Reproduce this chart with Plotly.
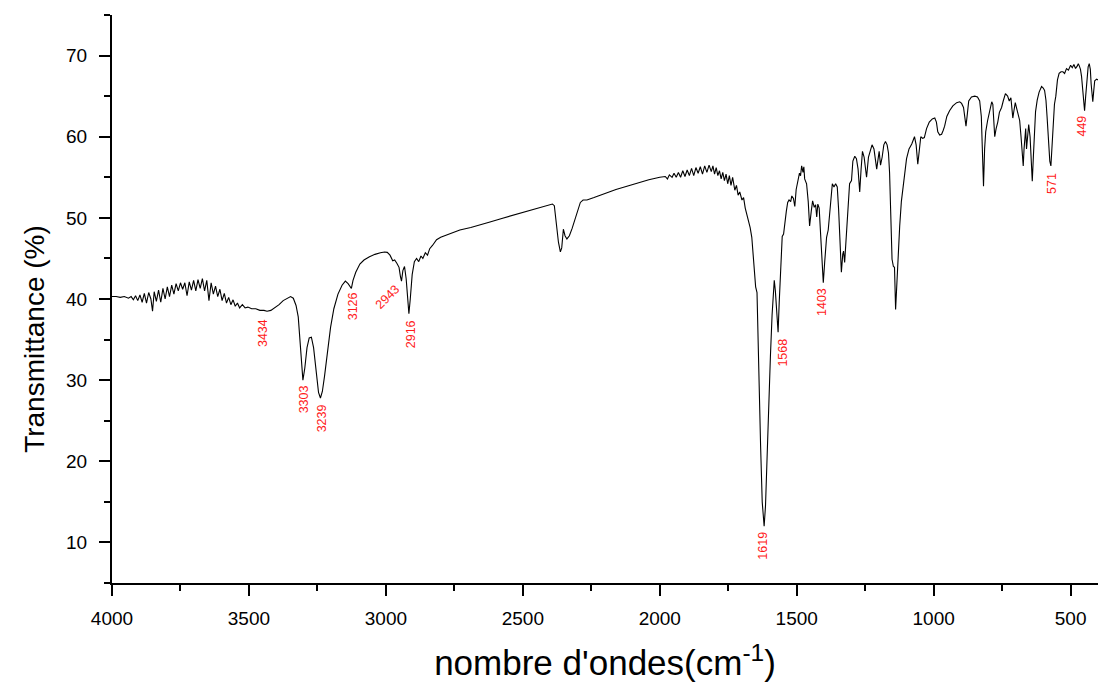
import plotly.graph_objects as go

# IR spectrum: wavenumber (cm-1) and transmittance (%)
wavenumber = [
    4000, 3985, 3970, 3955, 3940, 3930, 3922, 3914, 3906, 3898, 3890, 3882, 3874, 3866, 3858, 3852, 3846, 3838,
    3830, 3822, 3814, 3806, 3798, 3790, 3782, 3774, 3766, 3758, 3750, 3742, 3734, 3726, 3718, 3710, 3702, 3694,
    3686, 3678, 3670, 3662, 3654, 3646, 3638, 3630, 3622, 3614, 3606, 3598, 3590, 3582, 3574, 3566, 3558, 3550,
    3542, 3534, 3524, 3514, 3504, 3490, 3475, 3460, 3445, 3434, 3420, 3405, 3390, 3375, 3360, 3348, 3338, 3328,
    3320, 3314, 3308, 3303, 3296, 3288, 3280, 3272, 3264, 3255, 3246, 3239, 3232, 3224, 3214, 3202, 3190, 3175,
    3160, 3148, 3138, 3130, 3126, 3120, 3110, 3095, 3080, 3060, 3040, 3020, 3005, 2995, 2985, 2975, 2968, 2960,
    2952, 2947, 2943, 2938, 2932, 2926, 2920, 2916, 2911, 2904, 2896, 2888, 2880, 2872, 2865, 2856, 2848, 2840,
    2830, 2815, 2800, 2770, 2730, 2690, 2657, 2620, 2580, 2540, 2500, 2460, 2420, 2392, 2385, 2378, 2370, 2363,
    2358, 2352, 2346, 2339, 2330, 2320, 2310, 2300, 2290, 2280, 2266, 2240, 2200, 2160, 2120, 2084, 2040, 2000,
    1980, 1972, 1965, 1955, 1948, 1940, 1932, 1924, 1916, 1908, 1900, 1892, 1884, 1876, 1868, 1860, 1852, 1844,
    1836, 1828, 1820, 1812, 1806, 1800, 1794, 1788, 1782, 1776, 1770, 1764, 1758, 1752, 1746, 1740, 1734, 1726,
    1720, 1714, 1708, 1700, 1694, 1688, 1682, 1676, 1670, 1664, 1659, 1654, 1650, 1645, 1640, 1632, 1626, 1619,
    1614, 1608, 1602, 1596, 1590, 1585, 1582, 1578, 1572, 1568, 1564, 1558, 1553, 1548, 1544, 1538, 1533, 1528,
    1522, 1518, 1512, 1507, 1502, 1496, 1490, 1486, 1482, 1477, 1474, 1471, 1464, 1458, 1453, 1447, 1442, 1436,
    1431, 1427, 1423, 1418, 1412, 1407, 1403, 1398, 1391, 1385, 1380, 1375, 1370, 1364, 1358, 1352, 1347, 1342,
    1337, 1332, 1329, 1325, 1318, 1312, 1307, 1300, 1295, 1288, 1282, 1276, 1270, 1265, 1260, 1254, 1245, 1238,
    1232, 1225, 1218, 1212, 1208, 1204, 1199, 1194, 1188, 1182, 1176, 1170, 1165, 1161, 1156, 1152, 1147, 1143,
    1139, 1134, 1129, 1124, 1118, 1113, 1106, 1099, 1090, 1080, 1070, 1064, 1058, 1052, 1047, 1040, 1034, 1026,
    1016, 1005, 996, 990, 985, 978, 971, 965, 960, 952, 942, 930, 916, 905, 898, 891, 886, 882, 878, 872, 862,
    850, 840, 832, 826, 821, 818, 814, 810, 803, 795, 788, 784, 780, 777, 772, 766, 760, 752, 746, 738, 730,
    724, 718, 714, 711, 707, 702, 697, 692, 686, 681, 677, 673, 670, 667, 664, 661, 657, 653, 648, 643, 640,
    636, 632, 628, 622, 615, 606, 600, 595, 590, 586, 581, 576, 572, 568, 564, 559, 554, 548, 542, 535, 528,
    522, 515, 508, 500, 494, 488, 482, 476, 472, 468, 464, 460, 456, 452, 449, 445, 441, 436, 432, 428, 425,
    422, 419, 416, 412, 405, 400,
]
transmittance = [
    40.3, 40.3, 40.2, 40.3, 40.1, 40.3, 39.9, 40.4, 39.8, 40.5, 39.6, 40.7, 39.5, 40.8, 40.0, 38.5, 40.9, 39.7,
    41.1, 39.6, 41.3, 40.0, 41.5, 40.3, 41.7, 40.6, 41.9, 41.0, 42.0, 41.2, 42.0, 40.4, 42.1, 41.1, 42.3, 41.0,
    42.4, 41.3, 42.5, 41.0, 42.3, 39.8, 42.0, 40.6, 41.6, 40.3, 41.2, 39.8, 40.7, 39.5, 40.2, 39.3, 39.9, 39.1,
    39.5, 38.9, 39.3, 38.9, 39.0, 38.8, 38.8, 38.6, 38.6, 38.5, 38.6, 38.9, 39.3, 39.8, 40.1, 40.3, 40.1, 39.2,
    37.8, 35.0, 32.0, 30.0, 31.5, 34.0, 35.2, 35.3, 34.0, 31.0, 28.5, 27.8, 28.6, 30.5, 33.5, 36.5, 38.8, 40.6,
    41.7, 42.2, 41.9, 41.4, 41.3, 42.3, 43.3, 44.3, 44.8, 45.2, 45.5, 45.7, 45.8, 45.75, 45.4, 44.7, 44.8, 44.4,
    43.9, 42.8, 42.2, 43.5, 44.0, 42.5, 39.5, 38.2, 40.0, 43.0, 44.6, 45.0, 44.6, 45.3, 45.0, 45.7, 45.4, 46.2,
    46.6, 47.3, 47.6, 48.0, 48.5, 48.8, 49.1, 49.5, 49.9, 50.3, 50.7, 51.1, 51.5, 51.7, 51.5, 49.5, 47.0, 45.8,
    46.3, 48.6, 47.8, 47.4, 47.8, 48.7, 49.8, 51.0, 51.9, 52.2, 52.2, 52.5, 53.0, 53.5, 53.9, 54.3, 54.7, 55.0,
    55.1, 54.8, 55.3, 55.0, 55.5, 55.0, 55.6, 55.0, 55.8, 55.1, 55.9, 55.2, 56.1, 55.2, 56.2, 55.5, 56.3, 55.4,
    56.4, 55.6, 56.5, 55.7, 56.4, 55.4, 56.2, 55.2, 55.8, 54.8, 55.6, 54.6, 55.4, 54.2, 55.2, 54.0, 55.0, 53.4,
    54.0, 52.8, 53.2, 52.2, 52.5, 51.2, 50.5, 49.7, 48.8, 47.6, 45.5, 44.0, 41.5, 40.8, 32.0, 22.0, 15.0, 12.0,
    14.5, 21.0, 28.0, 33.0, 38.0, 41.5, 42.3, 41.0, 37.5, 35.9, 39.5, 44.5, 47.7, 48.0, 49.5, 50.8, 51.9, 52.2,
    52.0, 52.7, 52.4, 51.4, 53.5, 54.8, 55.5, 55.2, 56.4, 55.6, 56.3, 54.8, 54.2, 52.0, 49.0, 50.8, 52.1, 51.3,
    51.6, 50.1, 51.7, 51.2, 47.0, 43.0, 42.0, 44.5, 47.6, 48.5, 50.0, 52.3, 54.2, 53.8, 54.2, 53.8, 51.0, 47.0,
    43.3, 45.5, 45.9, 44.5, 48.0, 52.0, 54.2, 54.6, 57.0, 57.6, 57.3, 56.0, 53.2, 56.0, 58.2, 57.5, 55.0, 57.5,
    58.2, 59.0, 58.5, 57.2, 56.0, 57.0, 58.2, 56.5, 57.5, 59.0, 59.4, 59.0, 58.0, 55.6, 49.0, 44.9, 44.0, 43.9,
    38.7, 42.5, 45.5, 49.0, 52.0, 53.5, 55.6, 57.3, 58.5, 59.1, 60.0, 59.0, 56.6, 58.5, 60.0, 59.8, 59.9, 61.0,
    61.8, 62.2, 62.3, 61.8, 60.6, 60.2, 60.3, 60.8, 61.3, 62.5, 63.2, 63.8, 64.2, 64.3, 64.1, 63.6, 62.5, 61.3, 62.5, 64.4, 64.9,
    65.0, 64.9, 64.4, 62.5, 58.0, 53.9, 58.5, 60.6, 62.0, 63.5, 64.3, 64.0, 61.5, 60.0, 61.0, 61.8, 63.0, 63.6, 64.4, 65.3, 65.0,
    64.4, 64.8, 63.5, 62.3, 63.2, 64.2, 63.5, 62.6, 62.0, 60.0, 58.0, 56.4, 58.5, 60.5, 61.0, 58.5, 60.5, 61.5, 60.0, 57.0, 54.5,
    57.5, 60.6, 63.1, 64.5, 65.5, 66.2, 66.0, 65.7, 64.5, 62.5, 59.0, 57.0, 56.4, 59.0, 62.5, 64.0, 65.0, 67.0, 67.8, 68.0, 68.0,
    67.8, 68.4, 68.2, 68.8, 68.5, 68.9, 68.4, 68.7, 69.0, 68.7, 68.3, 67.4, 65.9, 64.0, 63.2, 65.0, 66.8, 68.6, 69.0, 68.3, 66.5,
    64.5, 64.3, 65.5, 66.9, 67.1, 67.0,
]

# Peak labels: text, wavenumber position, y-position (%), rotation
peak_labels = ["3434", "3303", "3239", "3126", "2943", "2916", "1619", "1568", "1403", "571", "449"]
peak_x = [3451, 3300, 3233, 3120, 2993, 2907, 1623, 1550, 1405, 568, 457]
peak_y = [35.85, 27.6, 25.3, 39.1, 40.2, 35.7, 9.6, 33.4, 39.6, 54.3, 61.3]
peak_angle = [-90, -90, -90, -90, -45, -90, -90, -90, -90, -90, -90]

x_ticks = [500, 1000, 1500, 2000, 2500, 3000, 3500, 4000]
y_ticks = [10, 20, 30, 40, 50, 60, 70]

FONT = "Arial, Liberation Sans, sans-serif"

fig = go.Figure()
fig.add_trace(go.Scatter(
    x=wavenumber, y=transmittance, mode="lines",
    line=dict(color="black", width=1.1), showlegend=False, hoverinfo="skip",
))

for txt, px, py, ang in zip(peak_labels, peak_x, peak_y, peak_angle):
    fig.add_annotation(x=px, y=py, xref="x", yref="y", text=txt, showarrow=False,
                       textangle=ang, xanchor="center", yanchor="middle",
                       font=dict(family=FONT, size=12.5, color="#ff1a1a"))

# y axis title
fig.add_annotation(xref="paper", yref="paper", x=-0.078, y=0.43, text="Transmittance (%)",
                   showarrow=False, textangle=-90, xanchor="center", yanchor="middle",
                   font=dict(family=FONT, size=28, color="black"))

axis_common = dict(showline=True, linecolor="black", linewidth=2, ticks="outside",
                   tickcolor="black", tickwidth=1.5, ticklen=11, showgrid=False, zeroline=False,
                   tickfont=dict(family=FONT, size=19, color="black"))

fig.update_layout(
    width=1098, height=686,
    margin=dict(l=112, r=0, t=15, b=103),
    paper_bgcolor="white", plot_bgcolor="white",
    xaxis=dict(range=[4000, 400], tickvals=x_ticks, ticklabelstandoff=6,
               minor=dict(dtick=250, tick0=0, ticks="outside", ticklen=6, tickwidth=1.5, tickcolor="black"),
               title=dict(text="nombre d'ondes(cm<sup>-1</sup>)", standoff=23,
                          font=dict(family=FONT, size=35, color="black")),
               **axis_common),
    yaxis=dict(range=[5, 75], tickvals=y_ticks, ticklabelstandoff=8,
               minor=dict(dtick=5, tick0=0, ticks="outside", ticklen=6, tickwidth=1.5, tickcolor="black"),
               **axis_common),
)

fig.write_html("out.html", config={"displayModeBar": False},
               post_script="document.body.style.margin='0';document.body.style.overflow='hidden';")
